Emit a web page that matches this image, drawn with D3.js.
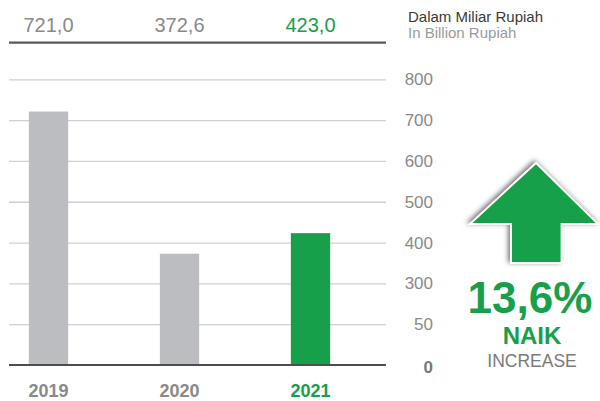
<!DOCTYPE html>
<html>
<head>
<meta charset="utf-8">
<script src="https://cdn.jsdelivr.net/npm/d3@7"></script>
<style>
  body { margin: 0; background: #fff; }
  svg { display: block; font-family: "Liberation Sans", Arial, Helvetica, sans-serif; }
</style>
</head>
<body>
<div id="chart"></div>
<script>
// data ---------------------------------------------------------------
const years = ['2019', '2020', '2021'];
const values = [721.0, 372.6, 423.0];
const valueLabels = ['721,0', '372,6', '423,0'];
const yTicks = [0, 50, 300, 400, 500, 600, 700, 800]; // broken axis, evenly spaced ticks
const changeLabel = '13,6%';

const width = 600;
const height = 401;
const gray = '#bcbdc0';
const green = '#17a04a';

const svg = d3.select('#chart')
  .append('svg')
  .attr('width', width)
  .attr('height', height);

// scales
const plot = { left: 9, right: 386, top: 79.3, bottom: 365 };
const step = (plot.bottom - plot.top) / (yTicks.length - 1);

const xScale = d3.scaleBand()
  .domain(years)
  .range([-17, 376])
  .paddingInner(0.7)
  .paddingOuter(0.35);

// piecewise linear scale, each tick gets the same spacing
const yScale = d3.scaleLinear()
  .domain(yTicks)
  .range(yTicks.map((d, i) => plot.bottom - i * step));

// gridlines
const grid = svg.append('g')
  .attr('transform', `translate(${plot.right}, 0)`)
  .call(d3.axisRight(yScale).tickValues(yTicks.slice(1)).tickFormat('').tickSize(-(plot.right - plot.left)));
grid.select('.domain').remove();
grid.selectAll('line').attr('stroke', '#cfd0d2').attr('stroke-width', 1.3);

// y labels on the right
svg.append('g')
  .selectAll('text')
  .data(yTicks)
  .join('text')
  .attr('x', 433)
  .attr('y', d => yScale(d) + (d === 0 ? 1.5 : 0))
  .attr('dy', '0.36em')
  .attr('text-anchor', 'end')
  .attr('font-size', 17)
  .attr('font-weight', d => d === 0 ? 'bold' : 'normal')
  .attr('fill', d => d === 0 ? '#7a7a7a' : '#8a8a8a')
  .text(d => d);

// bars
svg.append('g')
  .selectAll('rect')
  .data(values)
  .join('rect')
  .attr('x', (d, i) => xScale(years[i]))
  .attr('width', xScale.bandwidth())
  .attr('y', d => yScale(d))
  .attr('height', d => yScale(0) - yScale(d))
  .attr('fill', (d, i) => i === years.length - 1 ? green : gray);

// baseline + top line
svg.append('line')
  .attr('x1', plot.left).attr('x2', plot.right)
  .attr('y1', plot.bottom).attr('y2', plot.bottom)
  .attr('stroke', '#4d4d4f').attr('stroke-width', 2.2);

svg.append('line')
  .attr('x1', plot.left).attr('x2', plot.right)
  .attr('y1', 42.7).attr('y2', 42.7)
  .attr('stroke', '#58585a').attr('stroke-width', 2.2);

// value labels on top
svg.append('g')
  .selectAll('text')
  .data(valueLabels)
  .join('text')
  .attr('x', (d, i) => xScale(years[i]) + xScale.bandwidth() / 2)
  .attr('y', 32)
  .attr('text-anchor', 'middle')
  .attr('font-size', 20)
  .attr('fill', (d, i) => i === years.length - 1 ? green : '#8a8a8a')
  .text(d => d);

// year labels
svg.append('g')
  .selectAll('text')
  .data(years)
  .join('text')
  .attr('x', d => xScale(d) + xScale.bandwidth() / 2)
  .attr('y', 397)
  .attr('text-anchor', 'middle')
  .attr('font-size', 18)
  .attr('font-weight', 'bold')
  .attr('fill', (d, i) => i === years.length - 1 ? green : '#8a8a8a')
  .text(d => d);

// unit note
svg.append('text')
  .attr('x', 408).attr('y', 22)
  .attr('font-size', 15)
  .attr('fill', '#3a3a3a')
  .text('Dalam Miliar Rupiah');
svg.append('text')
  .attr('x', 408).attr('y', 37.5)
  .attr('font-size', 15)
  .attr('fill', '#9a9a9a')
  .text('In Billion Rupiah');

// arrow with shadow
const defs = svg.append('defs');
const filter = defs.append('filter').attr('id', 'shadow')
  .attr('x', '-30%').attr('y', '-30%').attr('width', '160%').attr('height', '160%');
filter.append('feDropShadow')
  .attr('dx', -2).attr('dy', -1.5)
  .attr('stdDeviation', 2.5)
  .attr('flood-color', '#000')
  .attr('flood-opacity', 0.55);

const ax = 536, ay = 163; // tip of arrow
const arrow = [
  [0, 0], [62, 61], [25.5, 61], [25.5, 100], [-25, 100], [-25, 61], [-66, 61]
];
svg.append('path')
  .attr('d', d3.line()(arrow.map(([x, y]) => [ax + x, ay + y])) + 'Z')
  .attr('fill', green)
  .attr('stroke', '#fff')
  .attr('stroke-width', 1.8)
  .attr('filter', 'url(#shadow)');

// change labels
svg.append('text')
  .attr('x', 530).attr('y', 313)
  .attr('text-anchor', 'middle')
  .attr('font-size', 44)
  .attr('font-weight', 'bold')
  .attr('fill', green)
  .text(changeLabel);
svg.append('text')
  .attr('x', 532).attr('y', 343.5)
  .attr('text-anchor', 'middle')
  .attr('font-size', 24)
  .attr('font-weight', 'bold')
  .attr('fill', green)
  .text('NAIK');
svg.append('text')
  .attr('x', 532).attr('y', 367)
  .attr('text-anchor', 'middle')
  .attr('font-size', 17.5)
  .attr('fill', '#7a7a7a')
  .text('INCREASE');
</script>
</body>
</html>
